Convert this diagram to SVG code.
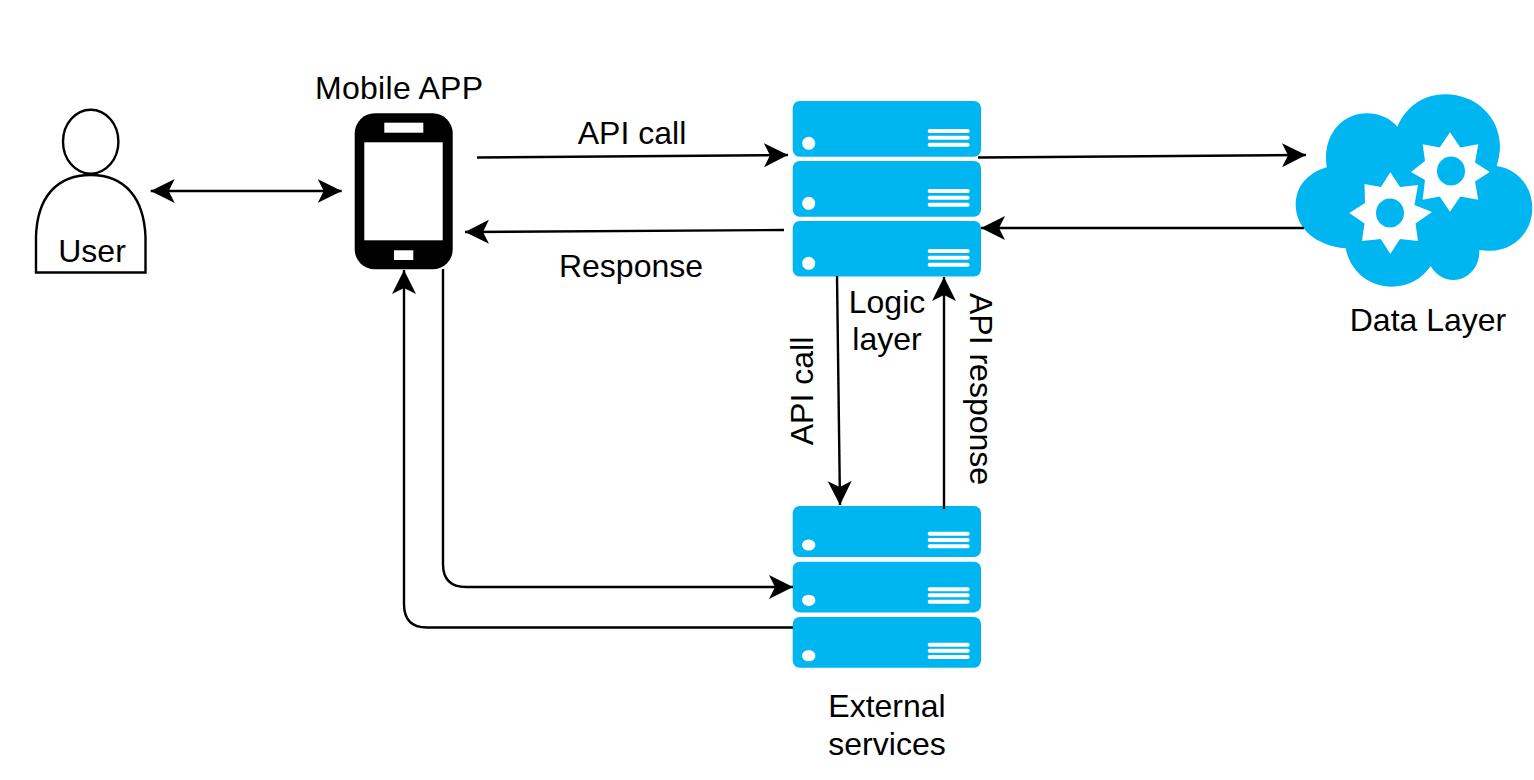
<svg xmlns="http://www.w3.org/2000/svg" width="1534" height="780" viewBox="0 0 1534 780">
<style>
text{font-family:"Liberation Sans",Arial,sans-serif;font-size:32px;fill:#000;text-anchor:middle}
.s{fill:#00b6f1}
.w{fill:#fff}
.l{stroke:#fff;stroke-width:4;stroke-linecap:round;fill:none}
.c{fill:none;stroke:#000;stroke-width:2.4}
</style>
<defs>
<marker id="a" markerUnits="userSpaceOnUse" markerWidth="28" markerHeight="28" refX="24" refY="12.5" orient="auto-start-reverse" viewBox="0 0 28 25">
<path d="M24 12.5L0 24.5L6 12.5L0 .5Z" fill="#000"/>
</marker>
</defs>
<rect width="1534" height="780" fill="#fff"/>
<g id="user">
<ellipse cx="90.700" cy="141.700" rx="27.700" ry="32" fill="#fff" stroke="#000" stroke-width="2.400"/>
<path d="M36 272.500V237C37 198 56 175 90.700 175C125 175 144 198 145.500 237V272.500Z" fill="#fff" stroke="#000" stroke-width="2.400"/>
<text x="92" y="262">User</text>
</g>
<g id="mobile">
<rect x="354.700" y="113.300" width="98" height="156" rx="20" fill="#000"/>
<rect class="w" x="364.300" y="142.300" width="78.400" height="98"/>
<rect class="w" x="384.300" y="122.700" width="39" height="10"/>
<rect class="w" x="394" y="250.300" width="19.300" height="9.700"/>
<text x="399" y="99" textLength="168">Mobile APP</text>
</g>
<g id="logic">
<rect class="s" x="792.700" y="101" width="188.300" height="55.700" rx="7"/>
<circle class="w" cx="808.700" cy="143.300" r="6.500"/>
<path class="l" d="M929.700 131H967.700M929.700 137.700H967.700M929.700 144.700H967.700"/>
<rect class="s" x="792.700" y="161" width="188.300" height="55.700" rx="7"/>
<circle class="w" cx="808.700" cy="203.300" r="6.500"/>
<path class="l" d="M929.700 191H967.700M929.700 197.700H967.700M929.700 204.700H967.700"/>
<rect class="s" x="792.700" y="221" width="188.300" height="55.500" rx="7"/>
<circle class="w" cx="808.700" cy="263.300" r="6.500"/>
<path class="l" d="M929.700 251H967.700M929.700 257.700H967.700M929.700 264.700H967.700"/>
<text x="887" y="313">Logic</text>
<text x="887" y="350">layer</text>
</g>
<g id="external">
<rect class="s" x="792.700" y="506" width="188.300" height="51" rx="7"/>
<ellipse class="w" cx="808.700" cy="545" rx="6.700" ry="5.600"/>
<path class="l" d="M929.700 533.700H967.700M929.700 540H967.700M929.700 546.300H967.700"/>
<rect class="s" x="792.700" y="561.700" width="188.300" height="50.700" rx="7"/>
<ellipse class="w" cx="808.700" cy="600.300" rx="6.700" ry="5.600"/>
<path class="l" d="M929.700 589.300H967.700M929.700 595.300H967.700M929.700 601.700H967.700"/>
<rect class="s" x="792.700" y="617" width="188.300" height="50.700" rx="7"/>
<ellipse class="w" cx="808.700" cy="655.700" rx="6.700" ry="5.600"/>
<path class="l" d="M929.700 644.700H967.700M929.700 650.700H967.700M929.700 657H967.700"/>
<text x="887" y="717">External</text>
<text x="887" y="755">services</text>
</g>
<g id="data">
<path class="s" d="M1326.700 167.300C1322 135 1342 113.300 1366.700 113.300C1379 113.300 1390 118 1397.300 126.700C1407 105 1425 94.300 1445 94.300C1477 94.300 1500 118 1500 146.700C1500 153 1498.500 160 1496.700 166C1518 169 1532.300 187 1532.300 208.300C1532.300 232 1514 250.700 1490 250.700C1486 250.700 1482 250.500 1479.300 250C1480 267 1468 280 1453.300 280C1444 280 1435 274 1430.700 266C1422 279 1408 286.700 1391.700 286.700C1369 286.700 1350 271 1345.700 248.300C1316 246 1295.700 228 1295.700 205C1295.700 187 1307 173 1326.700 167.300Z"/>
<path class="w" fill-rule="evenodd" d="M1450 132.300L1460.300 147.500L1478.300 144.300L1475 162.500L1489.700 172L1475 181.500L1478.300 199.700L1460.300 196.500L1450 211.700L1439.700 196.500L1422.700 199.700L1425 180L1411 172L1425 161L1422.700 144.300L1439.700 147.500ZM1451 156.500A14 14.500 0 1 0 1451 185.500A14 14.500 0 1 0 1451 156.500Z"/>
<path class="w" fill-rule="evenodd" d="M1390.300 172.300L1400 187L1418 185L1414.500 205L1432 212L1415.500 223.500L1418 241L1400 239L1390.300 254L1380.700 239L1362 241L1364.500 223.500L1349.300 213L1365 203L1364.500 184L1381 187ZM1390 198.500A14 14.500 0 1 0 1390 227.500A14 14.500 0 1 0 1390 198.500Z"/>
<text x="1428" y="331">Data Layer</text>
</g>
<g id="connectors">
<path class="c" d="M150.700 191H341.700" marker-start="url(#a)" marker-end="url(#a)"/>
<path class="c" d="M477 157.500L788 155" marker-end="url(#a)"/>
<path class="c" d="M978 157.500L1306 155" marker-end="url(#a)"/>
<path class="c" d="M1304 228H981" marker-end="url(#a)"/>
<path class="c" d="M784 230L465 232" marker-end="url(#a)"/>
<path class="c" d="M837 276L840 505" marker-end="url(#a)"/>
<path class="c" d="M944 509V277" marker-end="url(#a)"/>
<path class="c" d="M443 269V564Q443 587 466 587H793" marker-end="url(#a)"/>
<path class="c" d="M793 627.500H427Q404 627.500 404 604V270" marker-end="url(#a)"/>
</g>
<g id="labels">
<text x="632" y="144">API call</text>
<text x="631" y="277">Response</text>
<text transform="translate(813 391) rotate(-90)">API call</text>
<text transform="translate(967 389) rotate(90)" x="0" y="-2.500">API response</text>
</g>
</svg>
